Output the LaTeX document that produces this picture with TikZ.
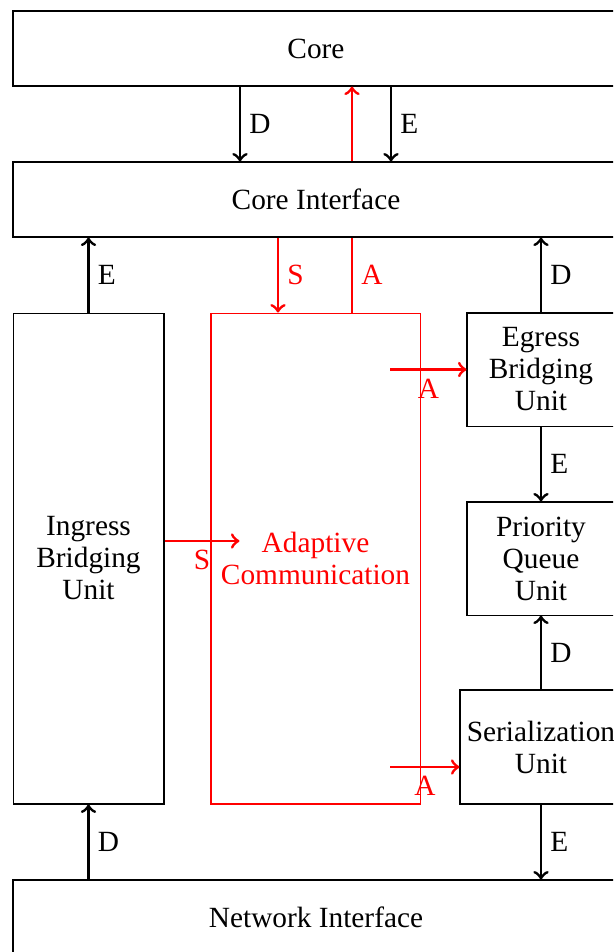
\documentclass[tikz,border=0pt]{standalone}
\usepackage{fontspec}
\setmainfont{Liberation Serif}
\usepackage{xcolor}
\usetikzlibrary{arrows,positioning,calc}

\begin{document}
\begin{tikzpicture}[
  x=0.375pt, y=-0.375pt,
  block/.style={rectangle, draw, inner sep=0pt, align=center, font=\fontsize{11}{12}\selectfont},
  wide/.style={block, minimum width=227.25pt, minimum height=28.125pt},
  unit/.style={block, minimum width=55.5pt, minimum height=42.4pt},
  arr/.style={->, line width=1.1pt},
  sig/.style={->, line width=1.1pt, red},
  lbl/.style={font=\fontsize{11}{12}\selectfont, inner sep=3pt}
]
\clip (0,0) rectangle (613,952);

% blocks
\node[wide] (core) at (316,48.5) {Core};
\node[wide] (coreif) at (316,199.5) {Core Interface};
\node[block, minimum width=56.6pt, minimum height=184.1pt] (ingress) at (88.5,558.5)
  {Ingress\\Bridging\\Unit};
\node[block, draw=red, text=red, minimum width=78.4pt, minimum height=184.1pt] (adaptive)
  at (315.5,558.5) {Adaptive\\Communication};
\node[unit] (egress) at (541,369.5) {Egress\\Bridging\\Unit};
\node[unit] (prio) at (541,558.5) {Priority\\Queue\\Unit};
\node[block, minimum width=60.75pt, minimum height=42.75pt] (serial) at (541,747)
  {Serialization\\Unit};
\node[wide] (netif) at (316,917.5) {Network Interface};

% core <-> core interface
\draw[arr] ($(core.south)+(-76,0)$) -- node[lbl, right] {D} ($(coreif.north)+(-76,0)$);
\draw[sig] ($(coreif.north)+(36,0)$) -- ($(core.south)+(36,0)$);
\draw[arr] ($(core.south)+(75,0)$) -- node[lbl, right] {E} ($(coreif.north)+(75,0)$);

% core interface <-> units
\draw[arr] (ingress.north) -- node[lbl, right] {E} (ingress.north |- coreif.south);
\draw[sig] ($(coreif.south)+(-38,0)$) -- node[lbl, right] {S} ($(adaptive.north)+(-37.5,0)$);
\draw[line width=1.1pt, red] ($(adaptive.north)+(36.5,0)$) -- node[lbl, right] {A} ($(coreif.south)+(36,0)$);
\draw[arr] (egress.north) -- node[lbl, right] {D} (egress.north |- coreif.south);

% right column
\draw[arr] (egress.south) -- node[lbl, right] {E} (prio.north);
\draw[arr] (serial.north) -- node[lbl, right] {D} (prio.south);
\draw[arr] (serial.south) -- node[lbl, right] {E} (serial.south |- netif.north);
\draw[arr] (ingress.south |- netif.north) -- node[lbl, right] {D} (ingress.south);

% adaptive communication signals
\draw[sig] ($(ingress.east)+(0,-17.5)$) -- node[lbl, below, red] {S} ($(adaptive.west)+(29,-17.5)$);
\draw[sig] ($(egress.west)+(-76,0)$) -- node[lbl, below, red] {A} (egress.west);
\draw[sig] ($(serial.west)+(-69,20)$) -- node[lbl, below, red] {A} ($(serial.west)+(0,20)$);
\end{tikzpicture}
\end{document}
